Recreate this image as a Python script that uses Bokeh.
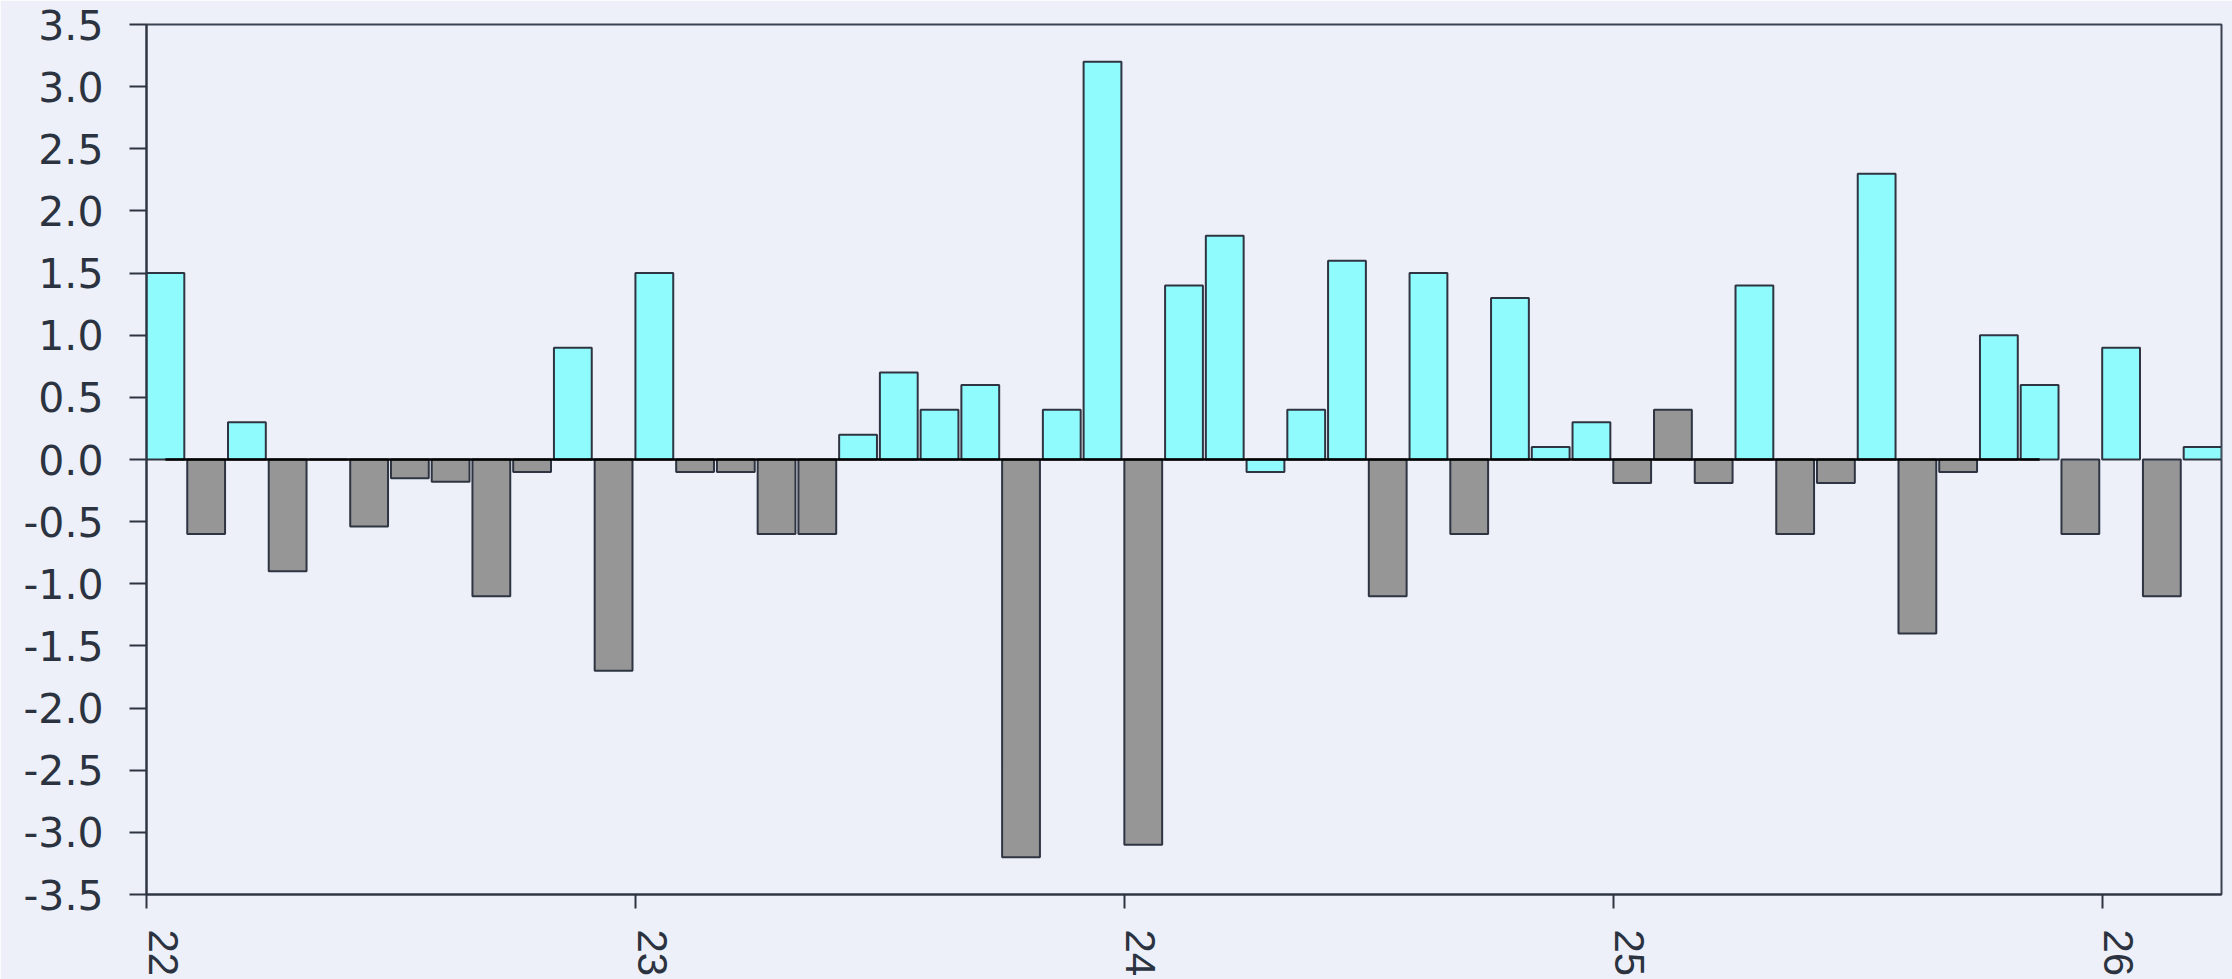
import math
from bokeh.plotting import figure
from bokeh.models import (Range1d, FixedTicker, NumeralTickFormatter, ColumnDataSource,
                          LinearAxis)
from bokeh.embed import file_html
from bokeh.resources import INLINE

# ---- data ----
start_year = 22
months_per_year = 12
values = [1.5, -0.6, 0.3, -0.9, 0.0, -0.54, -0.15, -0.18, -1.1, -0.1, 0.9, -1.7,
          1.5, -0.1, -0.1, -0.6, -0.6, 0.2, 0.7, 0.4, 0.6, -3.2, 0.4, 3.2,
          -3.1, 1.4, 1.8, -0.1, 0.4, 1.6, -1.1, 1.5, -0.6, 1.3, 0.1, 0.3,
          -0.19, 0.4, -0.19, 1.4, -0.6, -0.19, 2.3, -1.4, -0.1, 1.0, 0.6, -0.6,
          0.9, -1.1, 0.1]
groups = ["c", "g", "c", "g", "g", "g", "g", "g", "g", "g", "c", "g",
          "c", "g", "g", "g", "g", "c", "c", "c", "c", "g", "c", "c",
          "g", "c", "c", "c", "c", "c", "g", "c", "g", "c", "c", "c",
          "g", "g", "g", "c", "g", "g", "c", "g", "g", "c", "c", "g",
          "c", "g", "c"]
x_ticks = [22, 23, 24, 25, 26]
y_ticks = [-3.5, -3.0, -2.5, -2.0, -1.5, -1.0, -0.5, 0.0, 0.5, 1.0, 1.5, 2.0, 2.5, 3.0, 3.5]
baseline_value = 0.0
baseline_first_bar = 0
baseline_last_bar = 46

# ---- styles ----
BG = "#edf0f9"
CYAN = "#90fbfc"
GREY = "#969696"
EDGE = "#2e3441"
TEXT = "#2c3340"
bar_frac = 0.928
label_shift = 0.034  # x tick labels sit just right of their ticks

n = len(values)
left = [start_year + i / months_per_year for i in range(n)]
right = [l + bar_frac / months_per_year for l in left]
colors = [CYAN if g == "c" else GREY for g in groups]
src = ColumnDataSource(dict(left=left, right=right, top=values,
                            bottom=[0.0] * n, color=colors))

x_start, x_end = start_year, right[-1]
p = figure(width=2232, height=979, output_backend="svg", toolbar_location=None,
           x_range=Range1d(x_start, x_end), y_range=Range1d(-3.5, 3.5),
           x_axis_location=None,
           min_border_left=146, min_border_right=11, min_border_top=24,
           min_border_bottom=84)
p.background_fill_color = BG
p.border_fill_color = BG
p.outline_line_color = "#3b4252"
p.outline_line_width = 2
p.xgrid.visible = False
p.ygrid.visible = False

p.quad(left="left", right="right", top="top", bottom="bottom", source=src,
       fill_color="color", line_color=EDGE, line_width=2)

centers = [(l + r) / 2 for l, r in zip(left, right)]
p.line(x=[centers[baseline_first_bar], centers[baseline_last_bar]],
       y=[baseline_value, baseline_value], line_color="black", line_width=2.5)

# x axis on a slightly shifted range: labels are the major ticks (lines hidden),
# the visible tick marks are minor ticks placed back at the true positions
p.extra_x_ranges = {"labels": Range1d(x_start - label_shift, x_end - label_shift)}
xt = FixedTicker(ticks=x_ticks, minor_ticks=[t - label_shift for t in x_ticks])
xa = LinearAxis(x_range_name="labels", ticker=xt)
xa.axis_line_color = EDGE
xa.axis_line_width = 2
xa.major_tick_line_color = None
xa.major_tick_in = 0
xa.major_tick_out = 14
xa.minor_tick_line_color = EDGE
xa.minor_tick_line_width = 2
xa.minor_tick_in = 0
xa.minor_tick_out = 14
xa.major_label_standoff = 21
xa.major_label_orientation = -math.pi / 2
xa.major_label_text_font = "Liberation Sans"
xa.major_label_text_font_size = "42px"
xa.major_label_text_color = TEXT
p.add_layout(xa, "below")

ya = p.yaxis[0]
ya.axis_line_color = EDGE
ya.axis_line_width = 2
ya.major_tick_line_color = EDGE
ya.major_tick_line_width = 2
ya.major_tick_in = 0
ya.major_tick_out = 17
ya.minor_tick_line_color = None
ya.ticker = FixedTicker(ticks=y_ticks)
ya.formatter = NumeralTickFormatter(format="0.0")
ya.major_label_standoff = 26
ya.major_label_text_font = "DejaVu Sans"
ya.major_label_text_font_size = "41px"
ya.major_label_text_color = TEXT

open("out.html", "w").write(file_html(p, INLINE))
